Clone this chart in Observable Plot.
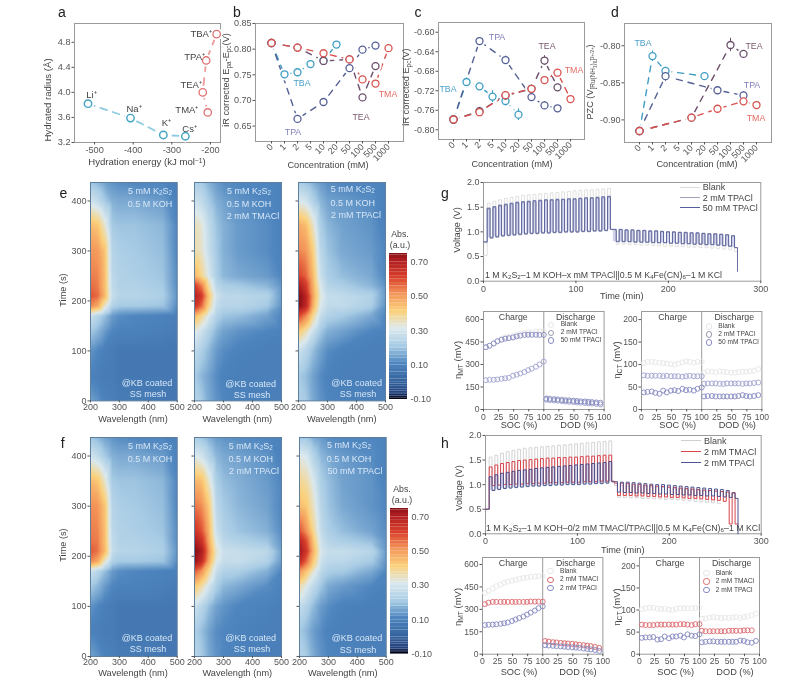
<!DOCTYPE html>
<html><head><meta charset="utf-8">
<script src="https://cdn.jsdelivr.net/npm/d3@7"></script>
<script src="https://cdn.jsdelivr.net/npm/@observablehq/plot@0.6"></script>
<style>
html,body{margin:0;padding:0;background:#fff}
#page{position:relative;width:794px;height:684px;overflow:hidden;font-family:"Liberation Sans",Arial,sans-serif;color:#444;filter:blur(.35px)}
#page div.t{position:absolute;white-space:nowrap;line-height:1}
#page sub{font-size:.7em;line-height:0;vertical-align:-.25em}
#page sup{font-size:.7em;line-height:0;vertical-align:.4em}
</style></head><body><div id="page"></div>
<script>
// ---------- panel a ----------
const aCations=[["Li⁺",-517,3.82],["Na⁺",-407,3.59],["K⁺",-322,3.32],["Cs⁺",-265,3.30]];
const aAmmonium=[["TMA⁺",-207,3.68],["TEA⁺",-220,4.00],["TPA⁺",-211,4.51],["TBA⁺",-184,4.93]];
const aLabels=[["Li⁺",-508,3.96],["Na⁺",-398,3.73],["K⁺",-314,3.52],["Cs⁺",-254,3.41],["TMA⁺",-261,3.72],["TEA⁺",-250,4.12],["TPA⁺",-241,4.56],["TBA⁺",-224,4.94]];
// ---------- panels b,c,d: [concentration, value, error] ----------
const conc=["0","1","2","5","10","20","50","100","500","1000"];
const bTBA=[["0",.812,.004],["1",.751,.005],["2",.755,.004],["5",.771,.005],["10",.778,.005],["20",.809,.006]];
const bTPA=[["0",.812,.004],["2",.664,.004],["10",.697,.004],["50",.763,.005],["100",.799,.004],["500",.807,.004]];
const bTEA=[["0",.812,.004],["2",.803,.006],["10",.777,.005],["50",.780,.006],["100",.706,.004],["500",.767,.005]];
const bTMA=[["0",.812,.004],["2",.803,.006],["10",.792,.006],["50",.780,.005],["100",.741,.005],["500",.733,.006],["1000",.802,.004]];
const cTBA=[["0",-.779,.006],["1",-.702,.008],["2",-.711,.005],["5",-.732,.012],["10",-.741,.010],["20",-.769,.012]];
const cTPA=[["0",-.779,.006],["2",-.618,.004],["10",-.657,.008],["50",-.733,.008],["100",-.750,.008],["500",-.756,.004]];
const cTEA=[["0",-.779,.006],["2",-.762,.008],["10",-.730,.006],["50",-.716,.008],["100",-.658,.010],["500",-.713,.006]];
const cTMA=[["0",-.779,.006],["2",-.764,.006],["10",-.729,.005],["50",-.716,.006],["100",-.698,.004],["500",-.683,.006],["1000",-.737,.004]];
const dTBA=[["0",-.915,.003],["1",-.814,.007],["2",-.834,.004],["20",-.841,.004]];
const dTPA=[["0",-.915,.003],["2",-.841,.007],["50",-.860,.002],["500",-.867,.005]];
const dTEA=[["0",-.915,.003],["10",-.897,.003],["100",-.799,.009],["500",-.811,.004]];
const dTMA=[["0",-.915,.003],["10",-.897,.004],["50",-.885,.002],["500",-.875,.002],["1000",-.880,.002]];
// ---------- panels e,f: absorbance grids ----------
const wavelengths=[200,225,250,275,300,350,450,500];
const times=[437,400,350,300,250,230,210,190,170,140,100,50,0];
const eBlank=[[.19,.17,.14,.12,.11,.10,.10,.08],[.28,.25,.20,.16,.15,.15,.13,.09],[.44,.42,.33,.20,.19,.19,.17,.10],[.50,.49,.42,.23,.21,.20,.18,.10],[.53,.52,.43,.24,.22,.21,.19,.11],[.55,.53,.43,.25,.22,.22,.20,.11],[.58,.55,.44,.26,.23,.23,.21,.12],[.52,.47,.33,.22,.20,.20,.19,.11],[.27,.23,.18,.13,.11,.10,.09,.08],[.20,.17,.13,.10,.09,.09,.08,.07],[.12,.10,.08,.07,.06,.06,.06,.06],[.09,.08,.07,.07,.06,.06,.06,.06],[.14,.12,.09,.08,.07,.07,.06,.06]];
const eTMA2=[[.21,.20,.16,.13,.11,.10,.10,.09],[.27,.25,.20,.16,.14,.12,.10,.09],[.35,.32,.25,.19,.16,.13,.11,.09],[.36,.33,.26,.20,.16,.13,.11,.09],[.45,.38,.29,.21,.17,.15,.13,.10],[.62,.53,.36,.24,.21,.20,.17,.12],[.69,.62,.42,.28,.24,.24,.22,.13],[.64,.55,.38,.26,.23,.23,.20,.12],[.45,.38,.29,.22,.19,.18,.14,.10],[.32,.27,.22,.17,.14,.12,.10,.09],[.25,.21,.17,.13,.11,.09,.08,.08],[.20,.17,.14,.11,.09,.08,.08,.08],[.23,.20,.15,.12,.10,.09,.08,.08]];
const eTPA2=[[.20,.19,.16,.13,.11,.10,.10,.09],[.30,.28,.22,.17,.14,.13,.11,.09],[.47,.44,.34,.21,.17,.14,.12,.09],[.52,.50,.40,.24,.19,.15,.13,.10],[.60,.56,.44,.27,.21,.18,.15,.10],[.70,.62,.46,.30,.23,.21,.17,.12],[.75,.68,.48,.32,.26,.25,.22,.13],[.75,.67,.46,.30,.25,.25,.21,.12],[.60,.52,.38,.26,.22,.20,.15,.10],[.42,.36,.27,.20,.16,.14,.10,.09],[.27,.23,.18,.14,.11,.09,.08,.08],[.20,.18,.14,.11,.09,.08,.08,.08],[.22,.20,.15,.12,.10,.09,.08,.08]];
const fBlank=[[.19,.17,.14,.12,.11,.10,.10,.08],[.28,.25,.20,.16,.15,.15,.13,.09],[.44,.42,.33,.20,.19,.19,.17,.10],[.51,.50,.42,.23,.21,.20,.18,.10],[.53,.52,.43,.24,.22,.21,.19,.11],[.54,.53,.43,.25,.22,.22,.20,.11],[.57,.54,.44,.26,.23,.23,.21,.12],[.52,.47,.33,.22,.20,.20,.19,.11],[.27,.23,.18,.13,.11,.10,.09,.08],[.20,.17,.13,.10,.09,.09,.08,.07],[.12,.10,.08,.07,.06,.06,.06,.06],[.09,.08,.07,.07,.06,.06,.06,.06],[.14,.12,.09,.08,.07,.07,.06,.06]];
const fTPA2=[[.21,.19,.16,.13,.12,.11,.10,.09],[.31,.28,.22,.17,.15,.14,.12,.09],[.45,.43,.33,.21,.18,.16,.13,.10],[.54,.51,.41,.24,.20,.17,.14,.10],[.63,.58,.45,.27,.22,.19,.16,.11],[.70,.64,.47,.30,.24,.22,.19,.12],[.75,.70,.50,.33,.27,.26,.24,.14],[.73,.66,.47,.31,.26,.26,.22,.13],[.57,.50,.38,.26,.22,.21,.16,.10],[.42,.36,.28,.21,.17,.15,.11,.09],[.27,.23,.18,.14,.12,.10,.09,.08],[.21,.18,.14,.11,.10,.09,.08,.08],[.24,.20,.15,.12,.10,.09,.08,.08]];
const fTPA50=[[.20,.19,.15,.13,.11,.10,.10,.09],[.31,.29,.22,.17,.15,.13,.11,.09],[.38,.36,.29,.21,.18,.14,.12,.09],[.44,.41,.33,.23,.19,.15,.12,.10],[.58,.50,.37,.25,.21,.18,.14,.11],[.68,.58,.41,.27,.23,.21,.18,.12],[.72,.62,.44,.29,.26,.26,.23,.13],[.66,.55,.40,.27,.24,.24,.20,.12],[.50,.42,.32,.24,.21,.20,.15,.10],[.36,.30,.24,.19,.15,.13,.10,.09],[.26,.22,.17,.13,.11,.09,.08,.08],[.20,.17,.13,.11,.09,.08,.08,.08],[.23,.20,.15,.12,.10,.09,.08,.08]];
const absStops=[-.10,-.07,0,.10,.20,.30,.40,.50,.60,.70,.75];
const absColors=["#05051a","#22407c","#35649f","#4f86bf","#a8cce5","#dbe9ee","#fbd27c","#f4975a","#d9402c","#ad1c20","#7e0e12"];
const barLevels=[-.10,-.09,-.08,-.07,-.06,-.05,-.04,-.03,-.02,-.01,0,.02,.04,.06,.08,.10,.12,.14,.16,.18,.20,.22,.24,.26,.28,.30,.32,.34,.36,.38,.40,.42,.44,.46,.48,.50,.52,.54,.56,.58,.60,.62,.64,.66,.68,.70,.72,.74];
// ---------- panels g,h: voltage profile, one high and one low per cycle ----------
const chargeStart=[4,10.2,16.4,22.6,28.8,35,41.2,47.4,53.6,59.8,66,72.2,78.4,84.6,90.8,97,103.2,109.4,115.6,121.8,128,134.2];
const dischargeStart=[140.4,146.8,153.2,159.6,166,172.4,178.8,185.2,191.6,198,204.4,210.8,217.2,223.6,230,236.4,242.8,249.2,255.6,262,268.4];
const gBlankChHi=[1.58,1.62,1.65,1.68,1.70,1.72,1.74,1.75,1.76,1.77,1.78,1.79,1.80,1.81,1.82,1.83,1.84,1.85,1.85,1.86,1.87,1.88];
const gBlankChLo=[.90,.92,.94,.95,.96,.97,.98,.98,.99,1.0,1.0,1.0,1.01,1.01,1.02,1.02,1.03,1.03,1.03,1.04,1.04,1.05];
const gBlankDisHi=[1.00,1.00,.99,.99,.98,.98,.97,.97,.96,.96,.95,.95,.94,.94,.93,.93,.92,.92,.91,.91,.90];
const gBlankDisLo=[.75,.75,.74,.74,.73,.73,.72,.72,.71,.71,.70,.70,.69,.69,.68,.68,.67,.66,.65,.64,.60];
const g2ChHi=[1.46,1.49,1.52,1.54,1.56,1.58,1.59,1.60,1.61,1.62,1.63,1.64,1.64,1.65,1.65,1.66,1.67,1.67,1.68,1.68,1.69,1.70];
const g2ChLo=[.87,.89,.91,.92,.93,.94,.95,.96,.96,.97,.97,.98,.98,.99,.99,.99,1.0,1.0,1.01,1.01,1.02,1.05];
const g2DisHi=[1.04,1.04,1.03,1.03,1.02,1.02,1.01,1.01,1.0,1.0,.99,.99,.98,.98,.97,.96,.96,.95,.95,.94,.92];
const g2DisLo=[.81,.81,.80,.80,.79,.79,.79,.78,.78,.77,.77,.76,.76,.75,.75,.74,.74,.73,.72,.71,.68];
const g50ChHi=[1.48,1.51,1.54,1.56,1.58,1.60,1.61,1.62,1.63,1.64,1.65,1.65,1.66,1.66,1.67,1.67,1.68,1.69,1.69,1.70,1.71,1.72];
const g50ChLo=[.88,.90,.92,.93,.94,.95,.96,.97,.97,.98,.98,.99,.99,1.0,1.0,1.0,1.01,1.01,1.02,1.02,1.03,1.05];
const g50DisHi=[1.05,1.05,1.04,1.04,1.03,1.03,1.02,1.02,1.01,1.0,1.0,.99,.99,.98,.98,.97,.96,.96,.95,.94,.92];
const g50DisLo=[.80,.80,.80,.79,.79,.79,.78,.78,.78,.77,.77,.76,.76,.75,.75,.74,.74,.73,.72,.71,.68];
const hBlankChHi=[1.56,1.60,1.64,1.67,1.70,1.72,1.74,1.75,1.76,1.77,1.78,1.79,1.80,1.81,1.82,1.83,1.84,1.85,1.86,1.87,1.88,1.89];
const hBlankChLo=[.90,.92,.94,.95,.96,.97,.98,.98,.99,1.0,1.0,1.0,1.01,1.01,1.02,1.02,1.03,1.03,1.03,1.04,1.04,1.05];
const hBlankDisHi=[.98,.98,.97,.97,.96,.96,.95,.95,.94,.94,.93,.92,.91,.90,.89,.88,.87,.86];
const hBlankDisLo=[.74,.74,.73,.73,.72,.72,.71,.71,.70,.70,.69,.68,.67,.66,.65,.64,.63,.62];
const hTMAChHi=[1.36,1.40,1.43,1.45,1.47,1.49,1.50,1.51,1.52,1.53,1.54,1.54,1.55,1.55,1.56,1.56,1.57,1.58,1.58,1.59,1.60,1.60];
const hTMAChLo=[.98,.99,1.0,1.0,1.01,1.01,1.02,1.02,1.03,1.03,1.04,1.04,1.04,1.05,1.05,1.05,1.06,1.06,1.06,1.07,1.07,1.07];
const hTMADisHi=[1.03,1.03,1.02,1.01,1.0,.99,.98,.97,.96,.95,.94,.93,.92,.91,.90,.89,.88,.87,.86,.85,.84];
const hTMADisLo=[.78,.78,.78,.77,.77,.76,.76,.75,.75,.74,.74,.73,.72,.72,.71,.70,.69,.68,.66,.2,.2];
const hTPAChHi=[1.16,1.20,1.23,1.25,1.27,1.29,1.30,1.31,1.33,1.34,1.35,1.36,1.37,1.38,1.39,1.40,1.41,1.42,1.43,1.44,1.45,1.47];
const hTPAChLo=[.88,.90,.92,.93,.94,.95,.96,.97,.97,.98,.98,.99,.99,1.0,1.0,1.0,1.01,1.01,1.02,1.02,1.03,1.06];
const hTPADisHi=[1.06,1.05,1.05,1.04,1.03,1.02,1.01,1.0,1.0,.99,.98,.97,.96,.95,.94,.93,.92,.91,.90,.88,.83];
const hTPADisLo=[.85,.84,.84,.83,.83,.82,.82,.81,.81,.80,.80,.79,.79,.78,.78,.77,.77,.76,.75,.74,.72];
// ---------- overpotentials vs SOC / DOD ----------
const socPct=[4,10,17,23,30,36,42,49,55,61,68,74,80,87,93,100];
const dodPct=[104,110,117,123,130,136,142,149,155,161,168,174,180,187,194];
const gMTBlank=[415,425,440,455,470,480,485,490,495,505,510,515,515,520,520,520];
const gMT50=[415,425,440,455,465,472,475,480,487,492,497,498,498,498,497,497];
const gMT2=[195,198,198,200,205,208,212,225,232,240,250,262,272,285,300,320];
const gMTBlankD=[78,75,72,70,68,65,63,60,58,55,52,50,47,44,38];
const gMT50D=[72,70,68,66,63,61,60,58,56,54,53,51,49,47,45];
const gMT2D=[65,62,60,58,56,53,51,49,47,45,43,41,39,37,33];
const gCTBlank=[103,106,106,105,104,103,102,101,100,102,105,107,106,104,106,106];
const gCT2=[76,75,75,75,75,74,75,74,74,74,73,74,75,74,74,74];
const gCT50=[38,39,40,37,35,42,38,42,43,41,46,43,44,42,46,49];
const gCTBlankD=[82,85,84,83,85,84,83,82,82,83,84,84,85,86,90];
const gCT2D=[57,58,58,58,57,57,58,58,58,58,57,58,58,59,60];
const gCT50D=[29,30,30,29,29,29,29,29,29,30,32,30,29,30,32];
const hMTBlank=[410,425,440,455,465,478,485,492,498,505,510,512,518,520,522,522];
const hMTTMA=[335,345,350,350,350,350,350,350,350,350,350,350,352,352,352,352];
const hMTTPA=[195,197,198,200,203,207,212,222,232,242,252,265,278,292,308,320];
const hMTBlankD=[88,85,82,80,77,74,72,70,67,64,62,58,55,52,42];
const hMTTMAD=[88,84,80,78,75,73,71,69,66,63,60,57,54,48,42];
const hMTTPAD=[60,58,56,54,52,50,48,46,44,42,38,35,32,28,22];
const hCTBlank=[102,104,105,105,103,102,103,101,100,103,104,104,104,104,105,105];
const hCTTMA=[67,66,66,66,67,67,67,67,67,67,68,68,67,66,68,68];
const hCTTPA=[37,38,38,39,33,34,40,36,40,40,42,38,45,42,41,45];
const hCTBlankD=[80,81,83,84,83,82,83,82,83,84,82,84,86,88,92];
const hCTTMAD=[53,52,52,52,52,52,52,53,53,53,53,54,54,54];
const hCTTPAD=[27,28,29,29,28,28,28,28,28,28,31,30,27,26,30];
const sodTicks=[0,25,50,75,100,125,150,175,200];
const sodLabels=["0","25","50","75","100","25","50","75","100"];

// ---------- colours ----------
const cTBAc="#3d9dc4",cTPAc="#545f96",cTEAc="#6b4f6b",cTMAc="#d9534f";
const grey="#555",frameC="#9a9a9a",blankC="#dcdcdc",tpaC="#4a5490",tmaC="#d9434a";

// ---------- helpers ----------
const page=document.getElementById("page");
const font='"Liberation Sans",Arial,sans-serif';
function panel([l,t,r,b],opts,marks,fs=9){
  const ml=34,mr=14,mt=6,mb=26;
  const svg=Plot.plot({width:r-l+ml+mr,height:b-t+mt+mb,marginLeft:ml,marginRight:mr,marginTop:mt,marginBottom:mb,
    style:{background:"transparent",overflow:"visible",fontFamily:font,fontSize:fs+"px",position:"absolute",left:(l-ml)+"px",top:(t-mt)+"px"},
    ...opts,marks});
  page.appendChild(svg);return svg;
}
function txt(x,y,html,{size=9.2,color="#444",rot=0,anchor="middle"}={}){
  const d=document.createElement("div");d.className="t";d.innerHTML=html;
  d.style.left=x+"px";d.style.top=y+"px";d.style.fontSize=size+"px";d.style.color=color;
  d.style.transform=`translate(${anchor==="middle"?"-50%":"0"},-50%) rotate(${rot}deg)`;
  page.appendChild(d);
}
const axX=o=>Plot.axisX({tickSize:2.5,tickPadding:1.5,label:null,color:grey,...o});
const axY=o=>Plot.axisY({tickSize:2.5,tickPadding:1.5,label:null,color:grey,...o});
const fr=(c=frameC)=>Plot.frame({stroke:c,strokeWidth:1});

// ---------- panel a ----------
panel([74,23,220,142],{x:{domain:[-552,-174]},y:{domain:[3.2,5.1]}},[
  fr(),
  axX({ticks:[-500,-400,-300,-200],tickFormat:d=>String(d)}),
  axY({ticks:[3.2,3.6,4.0,4.4,4.8],tickFormat:d=>d.toFixed(1)}),
  Plot.line(aCations,{x:d=>d[1],y:d=>d[2],stroke:"#8fcbe0",strokeWidth:1.8,strokeDasharray:"7,6"}),
  Plot.line(aAmmonium,{x:d=>d[1],y:d=>d[2],stroke:"#ec9a9a",strokeWidth:1.8,strokeDasharray:"7,7"}),
  Plot.dot([...aCations,...aAmmonium],{x:d=>d[1],y:d=>d[2],r:6.2,fill:"#fff"}),
  Plot.dot(aCations,{x:d=>d[1],y:d=>d[2],r:3.7,stroke:"#3fa3c4",strokeWidth:1.4,fill:"#fff"}),
  Plot.dot(aAmmonium,{x:d=>d[1],y:d=>d[2],r:3.7,stroke:"#e0706f",strokeWidth:1.3,fill:"#fff"}),
  Plot.text(aLabels,{x:d=>d[1],y:d=>d[2],text:d=>d[0],fontSize:9.5,fill:"#444"})
],9.2);
txt(147,162,'Hydration energy (kJ mol<sup>−1</sup>)',{size:9.6});
txt(48,100,'Hydrated radius (Å)',{rot:-90,size:9.6});

// ---------- panels b,c,d ----------
function concMarks(series,yTicks,fmt){
  const x=d=>d[0],y=d=>d[1];
  return [
    fr(),
    axX({ticks:conc,tickRotate:-45,tickFormat:d=>d}),
    axY({ticks:yTicks,tickFormat:fmt}),
    ...series.map(([rows,c])=>Plot.line(rows,{x,y,stroke:c,strokeWidth:1.4,strokeDasharray:"6,6"})),
    ...series.map(([rows])=>Plot.dot(rows,{x,y,r:6.2,fill:"#fff"})),
    ...series.map(([rows,c])=>Plot.ruleX(rows,{x,y1:d=>d[1]-d[2],y2:d=>d[1]+d[2],stroke:c,strokeWidth:1})),
    ...series.map(([rows,c])=>Plot.dot(rows,{x,y,r:3.5,stroke:c,strokeWidth:1.3,fill:"#fff"}))
  ];
}
const xPoint={type:"point",domain:conc,padding:1.06};
panel([255,23,403,141],{x:xPoint,y:{domain:[.62,.85]}},
  concMarks([[bTBA,cTBAc],[bTPA,cTPAc],[bTEA,cTEAc],[bTMA,cTMAc]],[.65,.70,.75,.80,.85],d=>d.toFixed(2)));
panel([438,22,584,139],{x:xPoint,y:{domain:[-.82,-.58]}},
  concMarks([[cTBA,cTBAc],[cTPA,cTPAc],[cTEA,cTEAc],[cTMA,cTMAc]],[-.60,-.64,-.68,-.72,-.76,-.80],d=>d.toFixed(2)));
panel([624,23,771,142],{x:xPoint,y:{domain:[-.9305,-.77]}},
  concMarks([[dTBA,cTBAc],[dTPA,cTPAc],[dTEA,cTEAc],[dTMA,cTMAc]],[-.80,-.85,-.90],d=>d.toFixed(2)));
const lab=(x,y,s,c)=>txt(x,y,s,{color:c,size:8.8});
lab(302,83,"TBA","#4aa0c8");lab(293,132,"TPA","#7f7fb8");lab(361,117,"TEA","#7a5a70");lab(388,94,"TMA","#e06a60");
lab(448,89,"TBA","#4aa0c8");lab(497,37,"TPA","#7f7fb8");lab(547,46,"TEA","#7a5a70");lab(574,70,"TMA","#e06a60");
lab(643,43,"TBA","#4aa0c8");lab(754,46,"TEA","#7a5a70");lab(752,85,"TPA","#7f7fb8");lab(756,118,"TMA","#e06a60");
txt(328,165.5,"Concentration (mM)");txt(512,164.5,"Concentration (mM)");txt(697,164.5,"Concentration (mM)");
txt(226.5,80,"iR corrected E<sub>pa</sub>-E<sub>pc</sub>(V)",{rot:-90});
txt(406.5,87,"iR corrected E<sub>pc</sub>(V)",{rot:-90});
txt(590.5,82,"PZC (V<sub>[Ru(NH<sub>3</sub>)<sub>6</sub>]<sup>3+/2+</sup></sub>)",{rot:-90});

// ---------- panels e,f ----------
const colorScale={type:"linear",domain:absStops,range:absColors,clamp:true,interpolate:"rgb"};
function grid(m){return m.flatMap((row,i)=>row.map((v,j)=>({w:wavelengths[j],t:times[i],v})));}
function heat(frame,m,showY){
  panel(frame,{x:{domain:[200,500]},y:{domain:[0,437]},color:colorScale},[
    Plot.raster(grid(m),{x:"w",y:"t",fill:"v",x1:200,x2:500,y1:0,y2:437,interpolate:"barycentric",pixelSize:1}),
    fr("#5f7f9f"),
    axX({ticks:[200,300,400,500],tickSize:2,tickPadding:.5}),
    axY({ticks:[0,100,200,300,400],tickFormat:showY?(d=>String(d)):(()=>"")})
  ]);
}
function colorBar(frame){
  panel(frame,{x:{domain:[0,1]},y:{domain:[-.10,.749]},color:colorScale},[
    Plot.rect(barLevels,{x1:0,x2:1,y1:d=>d,y2:(d,i)=>barLevels[i+1]??.749,fill:d=>d}),
    Plot.axisY({anchor:"right",ticks:[-.10,.10,.30,.50,.70],tickFormat:d=>d.toFixed(2),tickSize:0,tickPadding:3,label:null,color:grey}),
    Plot.axisX({ticks:[],label:null})
  ]);
}
heat([90,182.3,176.7,400.7],eBlank,true);
heat([193.7,182.3,280.7,400.7],eTMA2,false);
heat([298.3,182.3,385.3,400.7],eTPA2,false);
colorBar([389.3,253.3,407.3,399.3]);
heat([90,436.7,176.7,655.7],fBlank,true);
heat([194.3,436.7,281.3,655.7],fTPA2,false);
heat([299.3,436.7,386,655.7],fTPA50,false);
colorBar([390.3,507.7,408.3,653.3]);
const wh=(x,y,s)=>txt(x,y,s,{color:"#d6e6f6",size:9});
wh(150,191,"5 mM K<sub>2</sub>S<sub>2</sub>");wh(150,204,"0.5 M KOH");wh(147,382.7,"@KB coated");wh(148,394,"SS mesh");
wh(249,191,"5 mM K<sub>2</sub>S<sub>2</sub>");wh(249,204,"0.5 M KOH");wh(253,215.7,"2 mM TMACl");wh(250.7,384,"@KB coated");wh(252,395,"SS mesh");
wh(352.7,189,"5 mM K<sub>2</sub>S<sub>2</sub>");wh(352.7,203,"0.5 M KOH");wh(356,215,"2 mM TPACl");wh(356.7,383,"@KB coated");wh(358,394,"SS mesh");
wh(150,446,"5 mM K<sub>2</sub>S<sub>2</sub>");wh(150,459,"0.5 M KOH");wh(147,637.7,"@KB coated");wh(148,649,"SS mesh");
wh(250.7,446,"5 mM K<sub>2</sub>S<sub>2</sub>");wh(250.7,459,"0.5 M KOH");wh(254,470.7,"2 mM TPACl");wh(250.7,638,"@KB coated");wh(252,649,"SS mesh");
wh(349,445,"5 mM K<sub>2</sub>S<sub>2</sub>");wh(349,459,"0.5 M KOH");wh(355,471,"50 mM TPACl");wh(357,638,"@KB coated");wh(358,650,"SS mesh");
for(const x of [133,237.3,341.7])txt(x,419.5,"Wavelength (nm)");
for(const x of [133,237.3,342.7])txt(x,673.5,"Wavelength (nm)");
txt(64.3,290,"Time (s)",{rot:-90});txt(64.3,545,"Time (s)",{rot:-90});
txt(400,234,"Abs.",{size:8.8});txt(400,245,"(a.u.)",{size:8.8});txt(402,489,"Abs.",{size:8.8});txt(402,500,"(a.u.)",{size:8.8});

// ---------- panels g,h ----------
function pulses(ts,hi,lo){return hi.flatMap((h,i)=>{const next=ts[i+1]??ts[i]+(ts[i]-ts[i-1]),mid=(ts[i]+next)/2;
  return [{t:ts[i],v:h},{t:mid,v:h},{t:mid,v:lo[i]},{t:next,v:lo[i]}];});}
function teeth(ts,hi,lo){return hi.map((h,i)=>{const next=ts[i+1]??ts[i]+(ts[i]-ts[i-1]);
  return {a:ts[i],b:(ts[i]+next)/2,hi:h,lo:lo[i]};});}
function profile(startV,chHi,chLo,disHi,disLo,endV){
  const d=[{t:0,v:startV},{t:chargeStart[0],v:startV},...pulses(chargeStart,chHi,chLo),...pulses(dischargeStart,disHi,disLo)];
  if(endV!==undefined)d.push({t:d[d.length-1].t,v:endV});
  return d;
}
function voltage(frame,curves,fill){
  panel(frame,{x:{domain:[0,300]},y:{domain:[0,2]}},[
    fr(),
    axX({ticks:[0,100,200,300]}),
    axY({ticks:[0,.5,1,1.5,2],tickFormat:d=>d.toFixed(1)}),
    Plot.rect(fill,{x1:"a",x2:"b",y1:"lo",y2:"hi",fill:"#c3c6ea",fillOpacity:.75}),
    ...curves.map(([d,c,w])=>Plot.line(d,{x:"t",y:"v",stroke:c,strokeWidth:w}))
  ]);
}
voltage([482.7,182.3,760,281],[
  [profile(.52,gBlankChHi,gBlankChLo,gBlankDisHi,gBlankDisLo,.55),blankC,.9],
  [profile(.78,g2ChHi,g2ChLo,g2DisHi,g2DisLo),"#9090b0",.7],
  [profile(.80,g50ChHi,g50ChLo,g50DisHi,g50DisLo,.2),"#565f9a",.9]
],[...teeth(chargeStart,g50ChHi,g50ChLo),...teeth(dischargeStart,g50DisHi,g50DisLo)]);
voltage([485,435,760.7,533.3],[
  [profile(.5,hBlankChHi,hBlankChLo,hBlankDisHi,hBlankDisLo),"#cfcfcf",.9],
  [profile(.5,hTMAChHi,hTMAChLo,hTMADisHi,hTMADisLo),tmaC,1],
  [profile(.5,hTPAChHi,hTPAChLo,hTPADisHi,hTPADisLo,0),tpaC,1]
],[...teeth(chargeStart,hTPAChHi,hTPAChLo)]);
function legLine(x1,x2,y,c,w){const d=document.createElement("div");d.style.cssText=`position:absolute;left:${x1}px;top:${y-w/2}px;width:${x2-x1}px;height:${w}px;background:${c}`;page.appendChild(d);}
legLine(680,700,187.3,"#dcdcdc",1);legLine(680,700,197.7,"#a0a0b4",1);legLine(680,700,207.7,"#565f9a",1.6);
txt(702.7,187.3,"Blank",{anchor:"start",size:9});txt(702.7,197.7,"2 mM TPACl",{anchor:"start",size:9});txt(702.7,207.7,"50 mM TPACl",{anchor:"start",size:9});
legLine(681,700.7,440.7,"#cfcfcf",1);legLine(681,700.7,451.7,tmaC,1.6);legLine(681,700.7,462.7,tpaC,1.6);
txt(704,440.7,"Blank",{anchor:"start",size:9});txt(704,451.7,"2 mM TMACl",{anchor:"start",size:9});txt(704,462.7,"2 mM TPACl",{anchor:"start",size:9});
txt(485,275,"1 M K<sub>2</sub>S<sub>2</sub>–1 M KOH–x mM TPACl||0.5 M K<sub>4</sub>Fe(CN)<sub>6</sub>–1 M KCl",{anchor:"start",size:8.8});
txt(486,528,"1 M K<sub>2</sub>S<sub>2</sub>–1 M KOH–0/2 mM TMACl/TPACl||0.5 M K<sub>4</sub>Fe(CN)<sub>6</sub>–1 M KCl",{anchor:"start",size:8.8});
txt(458.3,230,"Voltage (V)",{rot:-90});txt(621.7,296.7,"Time (min)");
txt(460,488,"Voltage (V)",{rot:-90});txt(622.7,551,"Time (min)");

// ---------- overpotential panels ----------
function over(frame,yMax,yTicks,series){
  const marks=[fr(),
    axX({ticks:sodTicks,tickFormat:(d,i)=>sodLabels[i]}),
    axY({ticks:yTicks}),
    Plot.ruleX([100],{stroke:frameC,strokeWidth:1})];
  for(const [ch,dis,c] of series){
    marks.push(Plot.dot(ch,{x:(d,i)=>socPct[i],y:d=>d,r:2.5,stroke:c,strokeWidth:.9,fill:"none"}));
    marks.push(Plot.dot(dis,{x:(d,i)=>dodPct[i],y:d=>d,r:2.5,stroke:c,strokeWidth:.9,fill:"none"}));
  }
  panel(frame,{x:{domain:[0,200]},y:{domain:[0,yMax]}},marks,8.6);
}
const lavender="#a0a3d0",lavender2="#8589c0",pale="#e6e6e6",redC="#dc6a6e";
over([482.7,311,603.3,409],653,[0,150,300,450,600],[[gMTBlank,gMTBlankD,pale],[gMT2,gMT2D,lavender],[gMT50,gMT50D,lavender2]]);
over([641.3,311,761.7,409],218,[0,50,100,150,200],[[gCTBlank,gCTBlankD,pale],[gCT2,gCT2D,lavender],[gCT50,gCT50D,lavender2]]);
over([482.3,557.3,602.7,654],647,[0,150,300,450,600],[[hMTBlank,hMTBlankD,pale],[hMTTMA,hMTTMAD,redC],[hMTTPA,hMTTPAD,lavender2]]);
over([639.3,557.3,759.3,654],219,[0,50,100,150,200],[[hCTBlank,hCTBlankD,pale],[hCTTMA,hCTTMAD,redC],[hCTTPA,hCTTPAD,lavender2]]);
function legDot(x,y,c){const d=document.createElement("div");d.style.cssText=`position:absolute;left:${x-2.7}px;top:${y-2.7}px;width:4.4px;height:4.4px;border:1px solid ${c};border-radius:50%`;page.appendChild(d);}
function legOver(mx,tx,ys,names,cols){ys.forEach((y,i)=>{legDot(mx,y,cols[i]);txt(tx,y,names[i],{anchor:"start",size:6.6});});}
legOver(550.7,560.7,[324.3,332.3,340],["Blank","2 mM TPACl","50 mM TPACl"],[pale,"#9a9ab0",lavender2]);
legOver(708.3,718.3,[326,334,342],["Blank","2 mM TPACl","50 mM TPACl"],[pale,"#9a9ab0",lavender2]);
legOver(550,560,[570.7,579.3,587.7],["Blank","2 mM TMACl","2 mM TPACl"],[pale,redC,lavender2]);
legOver(706,715.7,[572.7,581,589.7],["Blank","2 mM TMACl","2 mM TPACl"],[pale,redC,lavender2]);
for(const [x1,x2,y] of [[513.3,575.7,316.7],[672.7,734.3,316.7],[513.3,575.7,562.7],[670,731.7,562.7]]){
  txt(x1,y,"Charge",{size:8.8});txt(x2,y,"Discharge",{size:8.8});
}
const sz={size:9.2};
txt(519,426,"SOC (%)",sz);txt(579,426,"DOD (%)",sz);txt(677.7,426,"SOC (%)",sz);txt(737.3,426,"DOD (%)",sz);
txt(519,672.7,"SOC (%)",sz);txt(578,672.7,"DOD (%)",sz);txt(675.7,672.7,"SOC (%)",sz);txt(735,672.7,"DOD (%)",sz);
const et={rot:-90,size:9.5};
txt(458,360,"η<sub>MT</sub> (mV)",et);txt(616.7,360,"η<sub>CT</sub> (mV)",et);
txt(458,606.7,"η<sub>MT</sub> (mV)",et);txt(616.7,606.7,"η<sub>CT</sub> (mV)",et);

// ---------- panel letters ----------
for(const [s,x,y] of [["a",62,12],["b",237,12],["c",418,12],["d",615,12],["e",63.3,193],["f",62.7,443],["g",445,193],["h",445,443]])
  txt(x,y,s,{size:14,color:"#222"});
</script></body></html>
